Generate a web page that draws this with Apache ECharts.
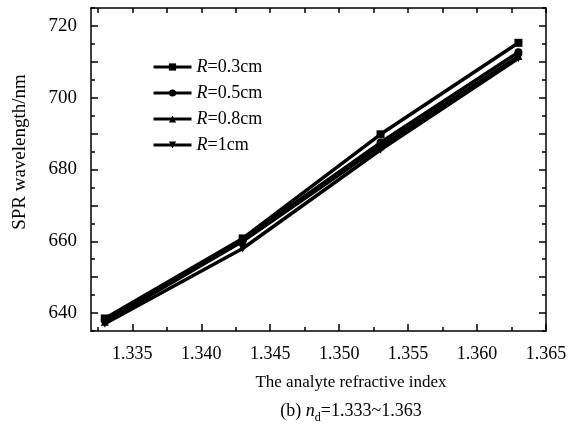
<!DOCTYPE html>
<html>
<head>
<meta charset="utf-8">
<script src="https://cdn.jsdelivr.net/npm/echarts@6/dist/echarts.min.js"></script>
<style>
  html, body { margin: 0; padding: 0; background: #fff; }
  #chart { width: 577px; height: 432px; }
</style>
</head>
<body>
<div id="chart"></div>
<script>
// refractive index of analyte
const xValues = [1.333, 1.343, 1.353, 1.363]
// SPR wavelength (nm) for each bend radius
const r03 = [638.5, 660.8, 689.8, 715.3]
const r05 = [638.0, 660.4, 687.5, 712.7]
const r08 = [637.6, 660.0, 686.5, 711.6]
const r10 = [637.0, 658.0, 685.5, 711.0]

const xMajor = [1.335, 1.340, 1.345, 1.350, 1.355, 1.360, 1.365]
const xMinor = [1.3325, 1.3375, 1.3425, 1.3475, 1.3525, 1.3575, 1.3625]
const yLabels = [640, 660, 680, 700, 720]
const yMajor = [640, 650, 660, 670, 680, 690, 700, 710, 720]
const yMinor = [635, 645, 655, 665, 675, 685, 695, 705, 715, 725]

const font = 'Liberation Serif'
const black = '#000'

const chart = echarts.init(document.getElementById('chart'))

const pair = (arr) => xValues.map((x, i) => [x, arr[i]])

const lineStyle = { color: black, width: 3.5 }
const baseSeries = (name, data, symbol, rotate) => ({
  name,
  type: 'line',
  data: pair(data),
  symbol,
  symbolSize: 8,
  symbolRotate: rotate || 0,
  lineStyle,
  itemStyle: { color: black },
  xAxisIndex: 0,
  yAxisIndex: 0
})

const xAxisBase = {
  type: 'value',
  min: 1.332,
  max: 1.365,
  splitLine: { show: false },
  axisLine: { show: true, onZero: false, lineStyle: { color: black, width: 1.5 } },
  axisLabel: { show: false }
}
const yAxisBase = {
  type: 'value',
  min: 635,
  max: 725,
  splitLine: { show: false },
  axisLine: { show: true, onZero: false, lineStyle: { color: black, width: 1.5 } },
  axisLabel: { show: false }
}
const tick = (values, length) => ({
  show: true, inside: true, length, customValues: values,
  lineStyle: { color: black, width: 1.5 }
})

const option = {
  animation: false,
  backgroundColor: '#fff',
  grid: { left: 91, top: 8, right: 31, bottom: 101 },
  legend: {
    orient: 'vertical',
    left: 152,
    top: 58,
    padding: 0,
    itemWidth: 38,
    itemHeight: 9,
    itemGap: 8,
    lineStyle: { width: 3 },
    textStyle: {
      fontFamily: font,
      fontSize: 18,
      color: black,
      rich: {
        i: { fontFamily: font, fontSize: 18, fontStyle: 'italic', color: black },
        n: { fontFamily: font, fontSize: 18, color: black }
      }
    },
    formatter: (name) => '{i|R}{n|' + name.slice(1) + '}'
  },
  xAxis: [
    Object.assign({}, xAxisBase, {
      position: 'bottom',
      axisTick: tick(xMajor, 7),
      axisLabel: {
        show: true, customValues: xMajor, margin: 14,
        fontFamily: font, fontSize: 18, color: black,
        formatter: (v) => v.toFixed(3)
      }
    }),
    Object.assign({}, xAxisBase, {
      position: 'bottom', offset: 0,
      axisLine: { show: false },
      axisTick: tick(xMinor, 4)
    }),
    Object.assign({}, xAxisBase, {
      position: 'top',
      axisTick: tick(xMajor.concat(xMinor), 5)
    })
  ],
  yAxis: [
    Object.assign({}, yAxisBase, {
      position: 'left',
      axisTick: tick(yMajor, 7),
      axisLabel: {
        show: true, customValues: yLabels, margin: 14,
        fontFamily: font, fontSize: 19, color: black
      }
    }),
    Object.assign({}, yAxisBase, {
      position: 'left', offset: 0,
      axisLine: { show: false },
      axisTick: tick(yMinor, 4)
    }),
    Object.assign({}, yAxisBase, {
      position: 'right',
      axisTick: tick(yMajor, 7)
    }),
    Object.assign({}, yAxisBase, {
      position: 'right', offset: 0,
      axisLine: { show: false },
      axisTick: tick(yMinor, 4)
    })
  ],
  graphic: [
    {
      type: 'text',
      x: 20, y: 152,
      rotation: Math.PI / 2,
      style: {
        text: 'SPR wavelength/nm',
        fontFamily: font, fontSize: 19, fill: black,
        align: 'center', verticalAlign: 'middle'
      }
    },
    {
      type: 'text',
      x: 351, y: 383,
      style: {
        text: 'The analyte refractive index',
        fontFamily: font, fontSize: 17, fill: black,
        align: 'center', verticalAlign: 'middle'
      }
    },
    {
      type: 'text',
      x: 351, y: 411,
      style: {
        text: '{b|(b) }{i|n}{s|d}{b|=1.333~1.363}',
        align: 'center', verticalAlign: 'middle',
        rich: {
          b: { fontFamily: font, fontSize: 18, fill: black, verticalAlign: 'bottom' },
          i: { fontFamily: font, fontSize: 18, fontStyle: 'italic', fill: black, verticalAlign: 'bottom' },
          s: { fontFamily: font, fontSize: 12, fill: black, verticalAlign: 'bottom', padding: [0, 0, -4, 0] }
        }
      }
    }
  ],
  series: [
    baseSeries('R=0.3cm', r03, 'rect'),
    baseSeries('R=0.5cm', r05, 'circle'),
    baseSeries('R=0.8cm', r08, 'triangle'),
    baseSeries('R=1cm', r10, 'triangle', 180)
  ]
}

chart.setOption(option)
</script>
</body>
</html>
